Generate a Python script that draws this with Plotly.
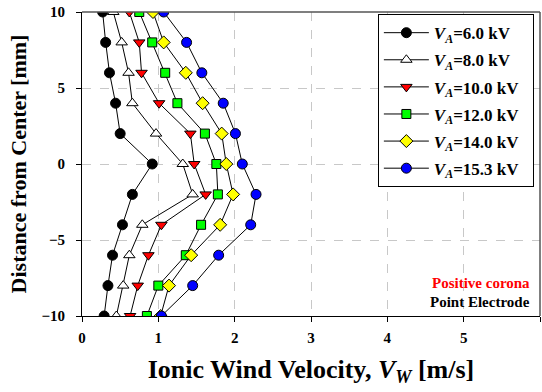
import plotly.graph_objects as go

distance = [10, 8, 6, 4, 2, 0, -2, -4, -6, -8, -10]
v_6_0 = [0.27, 0.31, 0.36, 0.44, 0.50, 0.92, 0.66, 0.53, 0.40, 0.34, 0.29]
v_8_0 = [0.41, 0.52, 0.61, 0.66, 0.97, 1.32, 1.45, 0.79, 0.62, 0.54, 0.45]
v_10_0 = [0.62, 0.75, 0.78, 1.01, 1.42, 1.47, 1.62, 1.04, 0.87, 0.73, 0.63]
v_12_0 = [0.75, 0.92, 1.09, 1.25, 1.61, 1.76, 1.78, 1.56, 1.36, 1.00, 0.85]
v_14_0 = [0.93, 1.07, 1.36, 1.58, 1.83, 1.89, 1.98, 1.81, 1.43, 1.14, 1.03]
v_15_3 = [1.07, 1.37, 1.57, 1.85, 2.01, 2.10, 2.28, 2.21, 1.79, 1.45, 1.04]

labels = ["6.0", "8.0", "10.0", "12.0", "14.0", "15.3"]
series = [v_6_0, v_8_0, v_10_0, v_12_0, v_14_0, v_15_3]
symbols = ["circle", "triangle-up", "triangle-down", "square", "diamond", "circle"]
fills = ["black", "white", "#ff0000", "#00ff00", "#ffff00", "#0000ff"]
sizes = [10, 10, 10, 9, 10, 10]

FONT = "Liberation Serif, Times New Roman, serif"
fig = go.Figure()
for i, (lab, vals, sym, col, sz) in enumerate(zip(labels, series, symbols, fills, sizes)):
    fig.add_trace(go.Scatter(
        x=vals, y=distance, mode="lines+markers",
        name=f"<b><i>V</i><sub><i>A</i></sub>={lab} kV</b>  ",
        legendgroup=f"g{i}",
        line=dict(color="black", width=1),
        marker=dict(symbol=sym, size=sz, color=col, line=dict(color="black", width=1)),
    ))

fig.add_shape(type="line", xref="paper", yref="paper", x0=0, x1=1, y0=1, y1=1,
              line=dict(color="#555555", width=1.5))
fig.add_shape(type="line", xref="paper", yref="paper", x0=1, x1=1, y0=0, y1=1,
              line=dict(color="#555555", width=1.5))

fig.add_annotation(x=1, y=0.108, xref="paper", yref="paper", xanchor="right", yanchor="middle",
                   text="<b>Positive corona</b>", showarrow=False, xshift=-8,
                   font=dict(family=FONT, size=15, color="#ff0000"))
fig.add_annotation(x=1, y=0.045, xref="paper", yref="paper", xanchor="right", yanchor="middle",
                   text="<b>Point Electrode</b>", showarrow=False, xshift=-8,
                   font=dict(family=FONT, size=15, color="black"))

fig.update_layout(
    width=542, height=392,
    margin=dict(l=82, r=2, t=12, b=76),
    paper_bgcolor="white", plot_bgcolor="white",
    font=dict(family=FONT, color="black"),
    showlegend=True,
    legend=dict(x=0.646, y=0.993, xanchor="left", yanchor="top",
                bgcolor="white", bordercolor="black", borderwidth=1,
                font=dict(family=FONT, size=17, color="black"),
                itemwidth=45, tracegroupgap=2),
    xaxis=dict(range=[0, 6], tickvals=[0, 1, 2, 3, 4, 5, 6], showline=True, linecolor="black",
               linewidth=1, ticks="outside", ticklen=5, tickcolor="black", automargin=False,
               tickfont=dict(family=FONT, size=15, weight="bold"), ticklabelstandoff=3,
               showgrid=True, gridcolor="#c8c8c8", griddash="dash", gridwidth=1, zeroline=False,
               title=dict(text="<b>Ionic Wind Velocity, <i>V</i><sub><i>W</i></sub> [m/s]</b>",
                          font=dict(family=FONT, size=26), standoff=14)),
    yaxis=dict(range=[-10, 10], tickvals=[-10, -5, 0, 5, 10], showline=True, linecolor="black",
               linewidth=1, ticks="outside", ticklen=5, tickcolor="black", automargin=False,
               tickfont=dict(family=FONT, size=15, weight="bold"), ticklabelstandoff=8,
               showgrid=True, gridcolor="#c8c8c8", griddash="dash", gridwidth=1, zeroline=False,
               title=dict(text="<b>Distance from Center [mm]</b>",
                          font=dict(family=FONT, size=22), standoff=8)),
)

fig.write_html("out.html", config={"displayModeBar": False},
               post_script="document.body.style.margin='0';")
